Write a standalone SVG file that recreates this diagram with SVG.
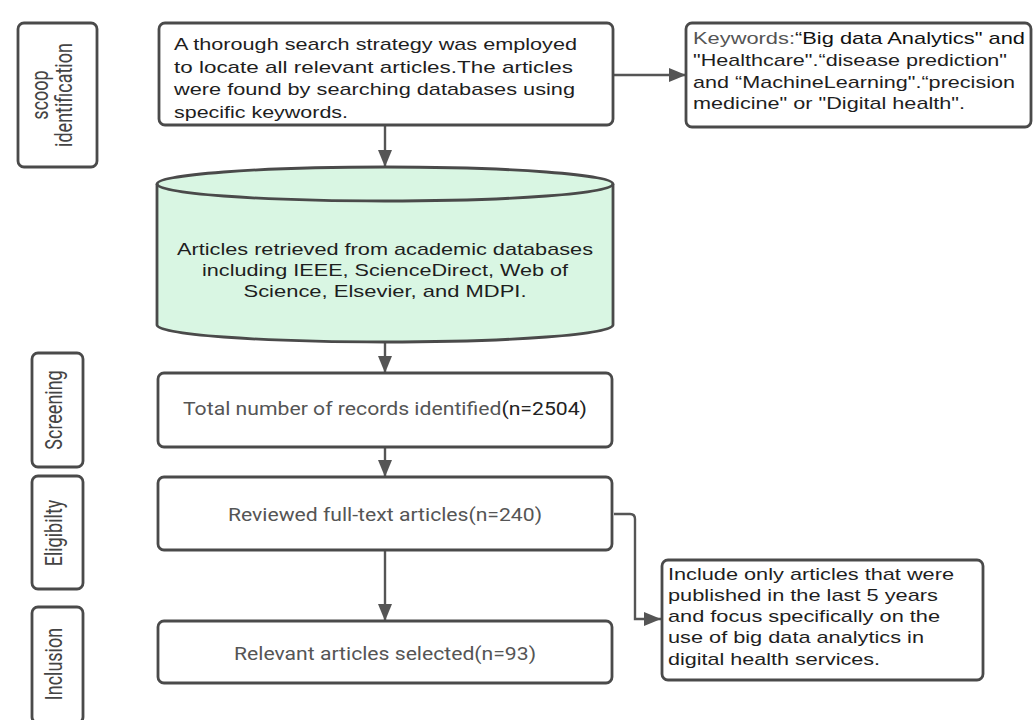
<svg xmlns="http://www.w3.org/2000/svg" width="1036" height="720" viewBox="0 0 1036 720">
<style>
.box{fill:#fff;stroke:#4a4a4a;stroke-width:2.8}
.cyl{fill:#d9f6e3;stroke:#4a4a4a;stroke-width:2.8}
.conn{fill:none;stroke:#555;stroke-width:2.4}
.t{font-family:"Liberation Sans",Arial,sans-serif;font-size:17px;fill:#1e1e1e}
.r{font-family:Roboto,"Liberation Sans",sans-serif;font-size:18px;fill:#555}
.lab{font-family:Roboto,"Liberation Sans",sans-serif;font-size:18px;fill:#444;text-anchor:middle}
</style>
<defs>
<marker id="ah" markerUnits="userSpaceOnUse" markerWidth="18" markerHeight="14" refX="17" refY="7" orient="auto">
<path d="M0,0 L17,7 L0,14 z" fill="#555"/>
</marker>
</defs>
<rect width="1036" height="720" fill="#fff"/>

<g id="connectors">
<line class="conn" x1="385" y1="126" x2="385" y2="167" marker-end="url(#ah)"/>
<line class="conn" x1="614" y1="75" x2="686" y2="75" marker-end="url(#ah)"/>
<line class="conn" x1="385" y1="343" x2="385" y2="373" marker-end="url(#ah)"/>
<line class="conn" x1="385" y1="448" x2="385" y2="477" marker-end="url(#ah)"/>
<line class="conn" x1="385" y1="551" x2="385" y2="621" marker-end="url(#ah)"/>
<path class="conn" d="M614,514 L630,514 Q635,514 635,519 L635,619 L661,619" marker-end="url(#ah)"/>
</g>

<g id="label-scoop">
<rect class="box" x="18" y="23" width="79" height="144" rx="6"/>
<text class="lab" transform="translate(48,95) scale(1.28,1) rotate(-90)">scoop</text>
<text class="lab" transform="translate(72,95) scale(1.28,1) rotate(-90)">identification</text>
</g>
<g id="label-screening">
<rect class="box" x="32" y="353" width="51" height="114" rx="6"/>
<text class="lab" transform="translate(62,410) scale(1.28,1) rotate(-90)">Screening</text>
</g>
<g id="label-eligibility">
<rect class="box" x="32" y="476" width="51" height="113" rx="6"/>
<text class="lab" transform="translate(62,533) scale(1.28,1) rotate(-90)">Eligibilty</text>
</g>
<g id="label-inclusion">
<rect class="box" x="32" y="607" width="51" height="116" rx="6"/>
<text class="lab" transform="translate(62,664) scale(1.28,1) rotate(-90)">Inclusion</text>
</g>

<g id="search">
<rect class="box" x="159" y="23" width="454" height="102" rx="6"/>
<text class="t" x="174" y="50" textLength="403" lengthAdjust="spacingAndGlyphs">A thorough search strategy was employed</text>
<text class="t" x="174" y="72.5" textLength="399" lengthAdjust="spacingAndGlyphs">to locate all relevant articles.The articles</text>
<text class="t" x="174" y="95" textLength="401" lengthAdjust="spacingAndGlyphs">were found by searching databases using</text>
<text class="t" x="174" y="117.5" textLength="174" lengthAdjust="spacingAndGlyphs">specific keywords.</text>
</g>

<g id="keywords">
<rect class="box" x="686" y="23" width="345" height="104" rx="6"/>
<text class="t" x="693" y="44" textLength="332" lengthAdjust="spacingAndGlyphs"><tspan fill="#555">Keywords:</tspan><tspan fill="#111">“Big data Analytics" and</tspan></text>
<text class="t" x="693" y="66" textLength="314" lengthAdjust="spacingAndGlyphs" fill="#111">"Healthcare".“disease prediction"</text>
<text class="t" x="693" y="88" textLength="322" lengthAdjust="spacingAndGlyphs" fill="#111">and “MachineLearning".“precision</text>
<text class="t" x="693" y="109" textLength="272" lengthAdjust="spacingAndGlyphs" fill="#111">medicine" or "Digital health".</text>
</g>

<g id="databases">
<path class="cyl" d="M157,184 L157,325 A228,17 0 0 0 613,325 L613,184 A228,17 0 0 0 157,184 Z"/>
<path class="conn" style="stroke:#4a4a4a;stroke-width:2.8" d="M157,184 A228,17 0 0 0 613,184"/>
<text class="t" x="385" y="255" text-anchor="middle" textLength="416" lengthAdjust="spacingAndGlyphs">Articles retrieved from academic databases</text>
<text class="t" x="385" y="276" text-anchor="middle" textLength="366" lengthAdjust="spacingAndGlyphs">including IEEE, ScienceDirect, Web of</text>
<text class="t" x="385" y="297" text-anchor="middle" textLength="283" lengthAdjust="spacingAndGlyphs">Science, Elsevier, and MDPI.</text>
</g>

<g id="total">
<rect class="box" x="158" y="373" width="454" height="74" rx="6"/>
<text class="r" x="385" y="415" text-anchor="middle" textLength="404" lengthAdjust="spacingAndGlyphs">Total number of records identified<tspan fill="#222">(n=2504)</tspan></text>
</g>

<g id="reviewed">
<rect class="box" x="158" y="477" width="454" height="73" rx="6"/>
<text class="r" x="385" y="521" text-anchor="middle" textLength="314" lengthAdjust="spacingAndGlyphs">Reviewed full-text articles(n=240)</text>
</g>

<g id="relevant">
<rect class="box" x="158" y="621" width="454" height="62" rx="6"/>
<text class="r" x="385" y="660" text-anchor="middle" textLength="302" lengthAdjust="spacingAndGlyphs">Relevant articles selected(n=93)</text>
</g>

<g id="criteria">
<rect class="box" x="662" y="560" width="321" height="120" rx="6"/>
<text class="t" x="668" y="580" textLength="286" lengthAdjust="spacingAndGlyphs">Include only articles that were</text>
<text class="t" x="668" y="601" textLength="270" lengthAdjust="spacingAndGlyphs">published in the last 5 years</text>
<text class="t" x="668" y="622" textLength="272" lengthAdjust="spacingAndGlyphs">and focus specifically on the</text>
<text class="t" x="668" y="643" textLength="256" lengthAdjust="spacingAndGlyphs">use of big data analytics in</text>
<text class="t" x="668" y="665" textLength="212" lengthAdjust="spacingAndGlyphs">digital health services.</text>
</g>
</svg>
